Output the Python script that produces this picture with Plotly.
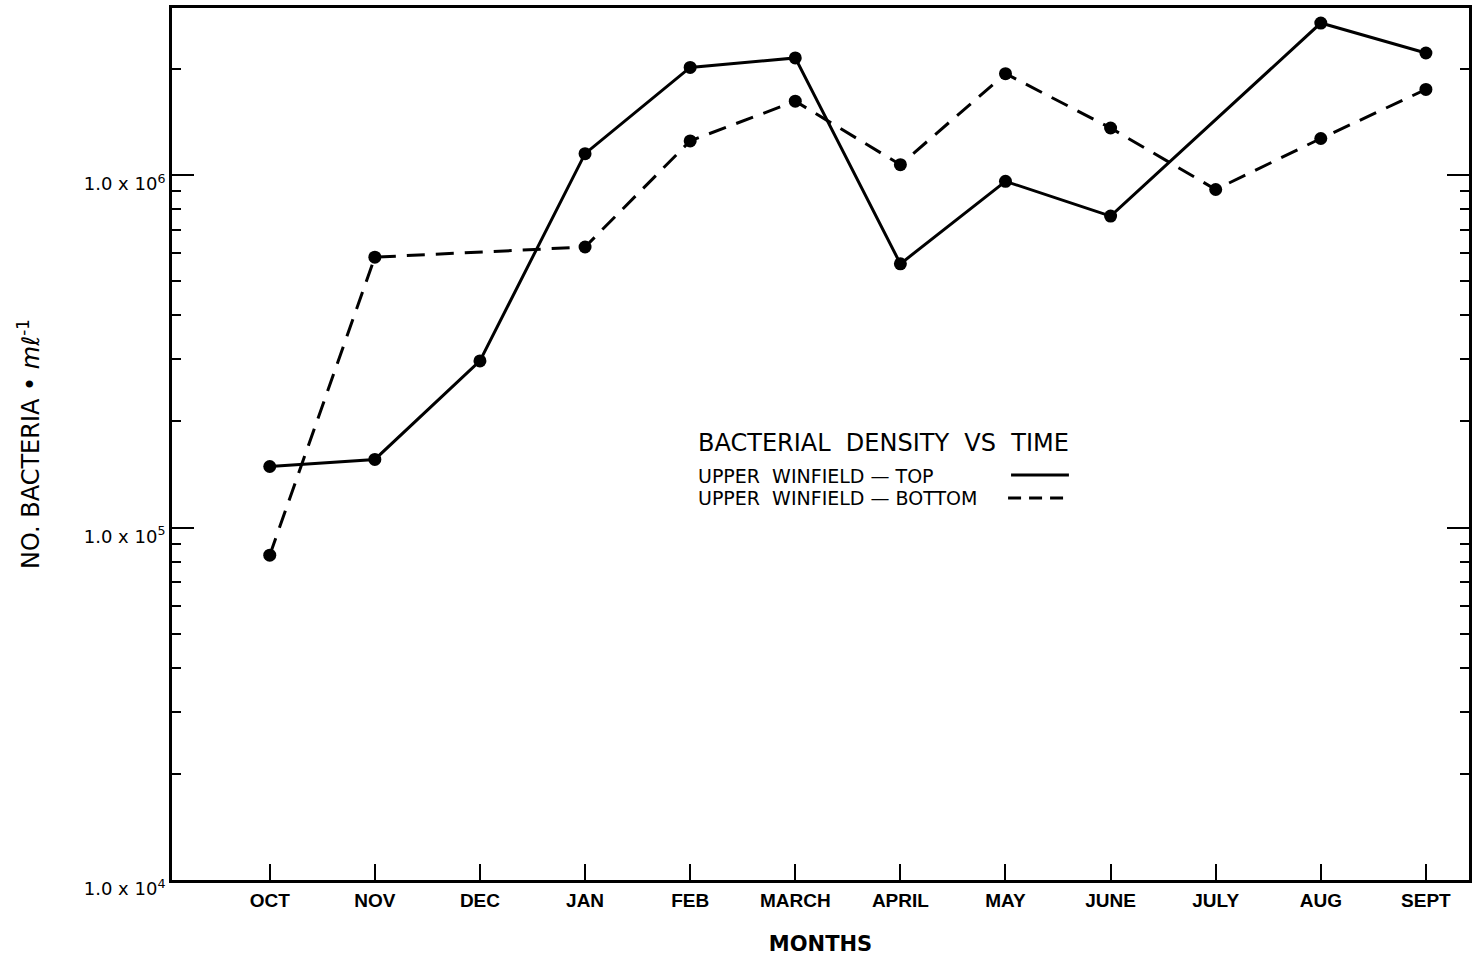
import plotly.graph_objects as go

months = ["OCT", "NOV", "DEC", "JAN", "FEB", "MARCH", "APRIL", "MAY", "JUNE", "JULY", "AUG", "SEPT"]
top = [1.49e5, 1.56e5, 2.97e5, 1.15e6, 2.02e6, 2.15e6, 5.6e5, 9.6e5, 7.65e5, None, 2.70e6, 2.22e6]
bottom = [8.35e4, 5.85e5, None, 6.25e5, 1.25e6, 1.62e6, 1.07e6, 1.94e6, 1.36e6, 9.1e5, 1.27e6, 1.75e6]
ytick_vals = [1e4, 1e5, 1e6]
ytick_text = ["1.0 x 10<sup>4</sup>", "1.0 x 10<sup>5</sup>", "1.0 x 10<sup>6</sup>"]

W, H = 1472, 961
L, R, T, B = 172, 0, 8, 81
pw, ph = W - L - R, H - T - B

def px(x):
    return (x - L) / pw

def py(y):
    return (H - B - y) / ph

fig = go.Figure()
fig.add_trace(go.Scatter(x=months, y=top, mode="lines+markers", connectgaps=True,
                         line=dict(color="black", width=3),
                         marker=dict(color="black", size=13),
                         name="UPPER WINFIELD — TOP", showlegend=False))
fig.add_trace(go.Scatter(x=months, y=bottom, mode="lines+markers", connectgaps=True,
                         line=dict(color="black", width=3, dash="18px,11px"),
                         marker=dict(color="black", size=13),
                         name="UPPER WINFIELD — BOTTOM", showlegend=False))

font = "DejaVu Sans"
minor_vals = [k * 10 ** e for e in (4, 5, 6) for k in range(2, 10)]

fig.update_layout(
    width=W, height=H,
    margin=dict(l=L, r=R, t=T, b=B),
    plot_bgcolor="white", paper_bgcolor="white",
    font=dict(family=font, color="black"),
    xaxis=dict(
        type="category", range=[-0.93, 11.41],
        showgrid=False, zeroline=False,
        showline=True, linecolor="black", linewidth=3, mirror=True,
        ticks="inside", ticklen=16, tickwidth=2, tickcolor="black",
        tickfont=dict(family="Liberation Sans", size=19, color="black", weight="bold"),
        ticklabelstandoff=1,
        title=dict(text="MONTHS", font=dict(family=font, size=21, color="black", weight="bold"), standoff=27),
    ),
    yaxis=dict(
        type="log", range=[4, 6.474],
        showgrid=False, zeroline=False,
        showline=True, linecolor="black", linewidth=3, mirror="ticks",
        ticks="inside", ticklen=22, tickwidth=2, tickcolor="black",
        tickvals=ytick_vals, ticktext=ytick_text,
        tickfont=dict(family=font, size=18, color="black"),
        ticklabelstandoff=0, ticklabelshift=9,
        minor=dict(tickvals=minor_vals, ticks="inside", ticklen=9, tickwidth=2,
                   tickcolor="black", showgrid=False),
        title=dict(text="NO. BACTERIA • <i>mℓ</i><sup>-1</sup>",
                   font=dict(family=font, size=24, color="black"), standoff=38),
    ),
)

fig.add_annotation(x=px(697), y=py(443), xref="paper", yref="paper", xanchor="left", yanchor="middle",
                   text="BACTERIAL  DENSITY  VS  TIME", showarrow=False,
                   font=dict(family=font, size=24, color="black"))
fig.add_annotation(x=px(697), y=py(476), xref="paper", yref="paper", xanchor="left", yanchor="middle",
                   text="UPPER  WINFIELD — TOP", showarrow=False,
                   font=dict(family=font, size=19, color="black"))
fig.add_annotation(x=px(697), y=py(498), xref="paper", yref="paper", xanchor="left", yanchor="middle",
                   text="UPPER  WINFIELD — BOTTOM", showarrow=False,
                   font=dict(family=font, size=19, color="black"))
fig.add_shape(type="line", xref="paper", yref="paper", x0=px(1013), x1=px(1071), y0=py(475), y1=py(475),
              line=dict(color="black", width=3))
fig.add_shape(type="line", xref="paper", yref="paper", x0=px(1010), x1=px(1071), y0=py(498), y1=py(498),
              line=dict(color="black", width=3, dash="13px,8px"))

fig.write_html("out.html")
